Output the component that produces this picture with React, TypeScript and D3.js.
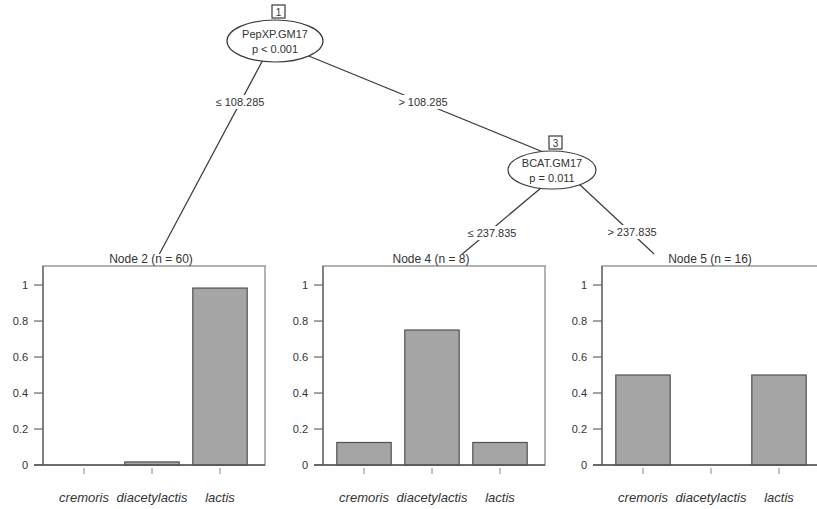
import React from "react";
import * as d3 from "d3";

// ---- data ----
const categories = ["cremoris", "diacetylactis", "lactis"];
const node2Values = [0, 0.017, 0.983];
const node4Values = [0.125, 0.75, 0.125];
const node5Values = [0.5, 0, 0.5];
const yTicks = [0, 0.2, 0.4, 0.6, 0.8, 1];
const yTickLabels = ["0", "0.2", "0.4", "0.6", "0.8", "1"];
const panelTitles = ["Node 2 (n = 60)", "Node 4 (n = 8)", "Node 5 (n = 16)"];
const innerIds = ["1", "3"];
const innerVariables = ["PepXP.GM17", "BCAT.GM17"];
const innerPValues = ["p < 0.001", "p = 0.011"];
const edgeLabels = ["\u2264 108.285", "> 108.285", "\u2264 237.835", "> 237.835"];

// ---- layout ----
const W = 817;
const H = 509;
const panelLefts = [43, 323, 602];
const panelWidth = 222;
const panelTop = 266;
const panelBottom = 465;
const yTopPx = 285;
const panelValues = [node2Values, node4Values, node5Values];

const innerPos = [
  { x: 275, y: 41, rx: 48, ry: 21 },
  { x: 552, y: 170, rx: 44, ry: 19 },
];
const edges = [
  { x0: 273, y0: 41, x1: 153, y1: 266, lx: 240, ly: 102 },
  { x0: 277, y0: 43, x1: 553, y1: 156, lx: 423, ly: 102 },
  { x0: 560, y0: 172, x1: 448, y1: 266, lx: 492, ly: 233 },
  { x0: 564, y0: 170, x1: 667, y1: 266, lx: 632, ly: 232 },
];
const edgeStopY = 254;

const FONT = "Liberation Sans, Arial, sans-serif";

function Panel({ idx }: { idx: number }) {
  const left = panelLefts[idx];
  const right = left + panelWidth;
  const values = panelValues[idx];
  const y = d3.scaleLinear().domain([0, 1]).range([panelBottom, yTopPx]);
  const x = d3
    .scaleBand<string>()
    .domain(categories)
    .range([left + 7, right - 11])
    .paddingInner(0.2)
    .paddingOuter(0.1);
  return (
    <g>
      <rect x={left} y={panelTop} width={panelWidth} height={panelBottom - panelTop} fill="white" stroke="#8a8a8a" strokeWidth={1.3} />
      <text x={(left + right) / 2 - 3} y={263} textAnchor="middle" fontSize={12} fontFamily={FONT} fill="#333">
        {panelTitles[idx]}
      </text>
      {categories.map((c, i) => {
        const v = values[i];
        if (v <= 0) return null;
        return (
          <rect
            key={c}
            x={x(c)}
            y={y(v)}
            width={x.bandwidth()}
            height={y(0) - y(v)}
            fill="#a5a5a5"
            stroke="#505050"
            strokeWidth={1.2}
          />
        );
      })}
      <line x1={left} x2={left} y1={panelTop} y2={panelBottom} stroke="#666" strokeWidth={1.3} />
      {yTicks.map((t, i) => (
        <g key={t}>
          <line x1={left - 9} x2={left} y1={y(t)} y2={y(t)} stroke="#666" strokeWidth={1.2} />
          <text x={left - 15} y={y(t) + 4} textAnchor="end" fontSize={11} fontFamily={FONT} fill="#333">
            {yTickLabels[i]}
          </text>
        </g>
      ))}
      <line x1={left - 9} x2={right} y1={panelBottom} y2={panelBottom} stroke="#555" strokeWidth={1.3} />
      {categories.map((c) => {
        const cx = (x(c) as number) + x.bandwidth() / 2;
        return (
          <g key={c}>
            <line x1={cx} x2={cx} y1={468} y2={474} stroke="#888" strokeWidth={1} />
            <text x={cx} y={502} textAnchor="middle" fontSize={13} fontStyle="italic" fontFamily={FONT} fill="#333">
              {c}
            </text>
          </g>
        );
      })}
    </g>
  );
}

export default function App() {
  return (
    <svg width={W} height={H} style={{ position: "absolute", left: 0, top: 0, background: "white" }}>
      <rect x={0} y={0} width={W} height={H} fill="white" />
      {edges.map((e, i) => {
        let x2 = e.x1;
        let y2 = e.y1;
        if (e.y1 > edgeStopY) {
          const t = (edgeStopY - e.y0) / (e.y1 - e.y0);
          x2 = e.x0 + t * (e.x1 - e.x0);
          y2 = edgeStopY;
        }
        return <line key={i} x1={e.x0} y1={e.y0} x2={x2} y2={y2} stroke="#3a3a3a" strokeWidth={1.2} />;
      })}
      {panelValues.map((_, i) => (
        <Panel key={i} idx={i} />
      ))}
      {edges.map((e, i) => (
        <g key={"l" + i}>
          <rect x={e.lx - 27} y={e.ly - 7} width={54} height={14} fill="white" />
          <text x={e.lx} y={e.ly + 4} textAnchor="middle" fontSize={11} fontFamily={FONT} fill="#333">
            {edgeLabels[i]}
          </text>
        </g>
      ))}
      {innerPos.map((n, i) => (
        <g key={"n" + i}>
          <ellipse cx={n.x} cy={n.y} rx={n.rx} ry={n.ry} fill="white" stroke="#3a3a3a" strokeWidth={1.2} />
          <text x={n.x} y={n.y - 3} textAnchor="middle" fontSize={11} fontFamily={FONT} fill="#333">
            {innerVariables[i]}
          </text>
          <text x={n.x} y={n.y + 12} textAnchor="middle" fontSize={11} fontFamily={FONT} fill="#333">
            {innerPValues[i]}
          </text>
          <rect x={n.x - 3} y={n.y - n.ry - 15} width={13} height={13} fill="white" stroke="#3a3a3a" strokeWidth={1.2} />
          <text x={n.x + 3.5} y={n.y - n.ry - 4.5} textAnchor="middle" fontSize={10} fontFamily={FONT} fill="#333">
            {innerIds[i]}
          </text>
        </g>
      ))}
    </svg>
  );
}
